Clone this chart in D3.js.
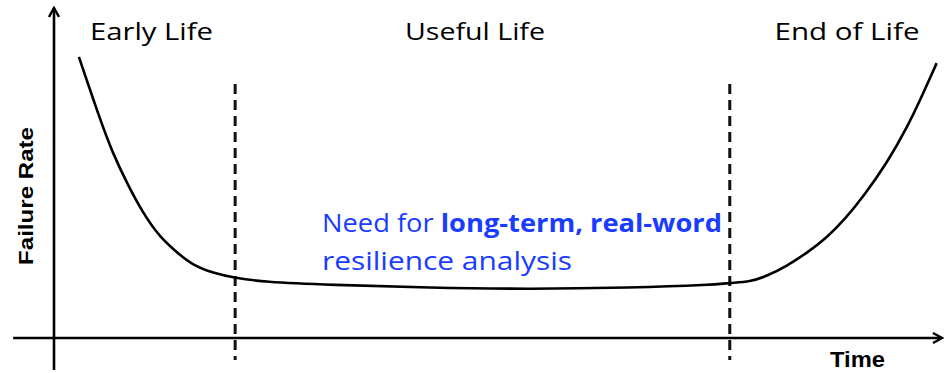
<!DOCTYPE html>
<html>
<head>
<meta charset="utf-8">
<script src="https://cdn.jsdelivr.net/npm/d3@7"></script>
<style>
  body { margin: 0; background: #fff; }
  svg { display: block; }
</style>
</head>
<body>
<div id="chart"></div>
<script>
// Bathtub curve, values (time 0-100, rate 0-100)
var timeVals = [2.8, 5.2, 6.6, 8.2, 10.0, 11.9, 13.9, 15.6, 17.9, 20.4, 23.5, 31.1,
                42.3, 53.6, 64.9, 74.2, 76.1, 78.4, 80.3, 82.5, 84.8, 87.0, 89.1,
                91.1, 93.8, 96.1, 97.9, 99.4];
var rateVals = [85.2, 66.1, 56.1, 47.0, 37.9, 30.6, 25.8, 22.1, 19.7, 18.2, 17.0, 16.1,
                15.2, 14.8, 15.2, 16.1, 16.7, 17.0, 18.8, 21.8, 25.8, 30.3, 36.1,
                42.7, 53.0, 63.9, 74.2, 83.3];
var phaseBounds = [20.4, 76.1];
var phaseNames = ["Early Life", "Useful Life", "End of Life"];

var svgWidth = 946, svgHeight = 373;

var svg = d3.select("#chart")
    .append("svg")
    .attr("width", svgWidth)
    .attr("height", svgHeight);

// Scales: origin at the axis crossing, 100 at the arrow tips
var x = d3.scaleLinear().domain([0, 100]).range([54, 942]);
var y = d3.scaleLinear().domain([0, 100]).range([338, 8]);

var data = timeVals.map(function(t, i) { return { t: t, r: rateVals[i] }; });

svg.append("defs").append("marker")
    .attr("id", "arrow")
    .attr("viewBox", "0 0 12 12")
    .attr("refX", 10)
    .attr("refY", 6)
    .attr("markerWidth", 12)
    .attr("markerHeight", 12)
    .attr("markerUnits", "userSpaceOnUse")
    .attr("orient", "auto")
    .append("path")
    .attr("d", "M1,1 L10,6 L1,11")
    .attr("fill", "none")
    .attr("stroke", "#000")
    .attr("stroke-width", 2.4);

// axes
svg.append("line")
    .attr("x1", x(-4.6)).attr("x2", x(100))
    .attr("y1", y(0)).attr("y2", y(0))
    .attr("stroke", "#000").attr("stroke-width", 2.6)
    .attr("marker-end", "url(#arrow)");

svg.append("line")
    .attr("x1", x(0)).attr("x2", x(0))
    .attr("y1", y(-9.7)).attr("y2", y(100))
    .attr("stroke", "#000").attr("stroke-width", 2.6)
    .attr("marker-end", "url(#arrow)");

// phase boundaries
svg.selectAll(".bound")
    .data(phaseBounds)
    .enter()
    .append("line")
    .attr("class", "bound")
    .attr("x1", d => x(d)).attr("x2", d => x(d))
    .attr("y1", y(77)).attr("y2", y(-6.7))
    .attr("stroke", "#111")
    .attr("stroke-width", 3)
    .attr("stroke-dasharray", "10,6");

// the curve (B-spline smooths out reading noise)
var line = d3.line()
    .x(d => x(d.t))
    .y(d => y(d.r))
    .curve(d3.curveBasis);

svg.append("path")
    .datum(data)
    .attr("d", line)
    .attr("fill", "none")
    .attr("stroke", "#000")
    .attr("stroke-width", 2.6);

// phase titles
var titleX = [151.5, 475, 847];
var titleW = [123, 140, 145];
svg.selectAll(".phase")
    .data(phaseNames)
    .enter()
    .append("text")
    .attr("class", "phase")
    .attr("x", (d, i) => titleX[i] - titleW[i] / 2)
    .attr("y", 40)
    .attr("textLength", (d, i) => titleW[i])
    .attr("lengthAdjust", "spacingAndGlyphs")
    .style("font-family", "'Open Sans', sans-serif")
    .style("font-size", "23px")
    .attr("fill", "#000")
    .text(d => d);

// axis titles
svg.append("text")
    .attr("transform", "translate(33,196) rotate(-90)")
    .attr("text-anchor", "middle")
    .attr("textLength", 138)
    .attr("lengthAdjust", "spacingAndGlyphs")
    .style("font-family", "'Liberation Sans', Arial, sans-serif")
    .style("font-weight", "bold")
    .style("font-size", "21px")
    .text("Failure Rate");

svg.append("text")
    .attr("x", 830)
    .attr("y", 367)
    .attr("textLength", 55)
    .attr("lengthAdjust", "spacingAndGlyphs")
    .style("font-family", "'Liberation Sans', Arial, sans-serif")
    .style("font-weight", "bold")
    .style("font-size", "22px")
    .text("Time");

// blue annotation
var note = svg.append("text")
    .attr("x", 322)
    .attr("y", 232)
    .attr("textLength", 400)
    .attr("lengthAdjust", "spacingAndGlyphs")
    .style("font-family", "'Open Sans', sans-serif")
    .style("font-size", "25.5px")
    .attr("fill", "#1a3cff");
note.append("tspan").text("Need for ");
note.append("tspan").style("font-weight", "bold").text("long-term, real-word");

svg.append("text")
    .attr("x", 322)
    .attr("y", 270)
    .attr("textLength", 250)
    .attr("lengthAdjust", "spacingAndGlyphs")
    .style("font-family", "'Open Sans', sans-serif")
    .style("font-size", "25.5px")
    .attr("fill", "#1a3cff")
    .text("resilience analysis");
</script>
</body>
</html>
